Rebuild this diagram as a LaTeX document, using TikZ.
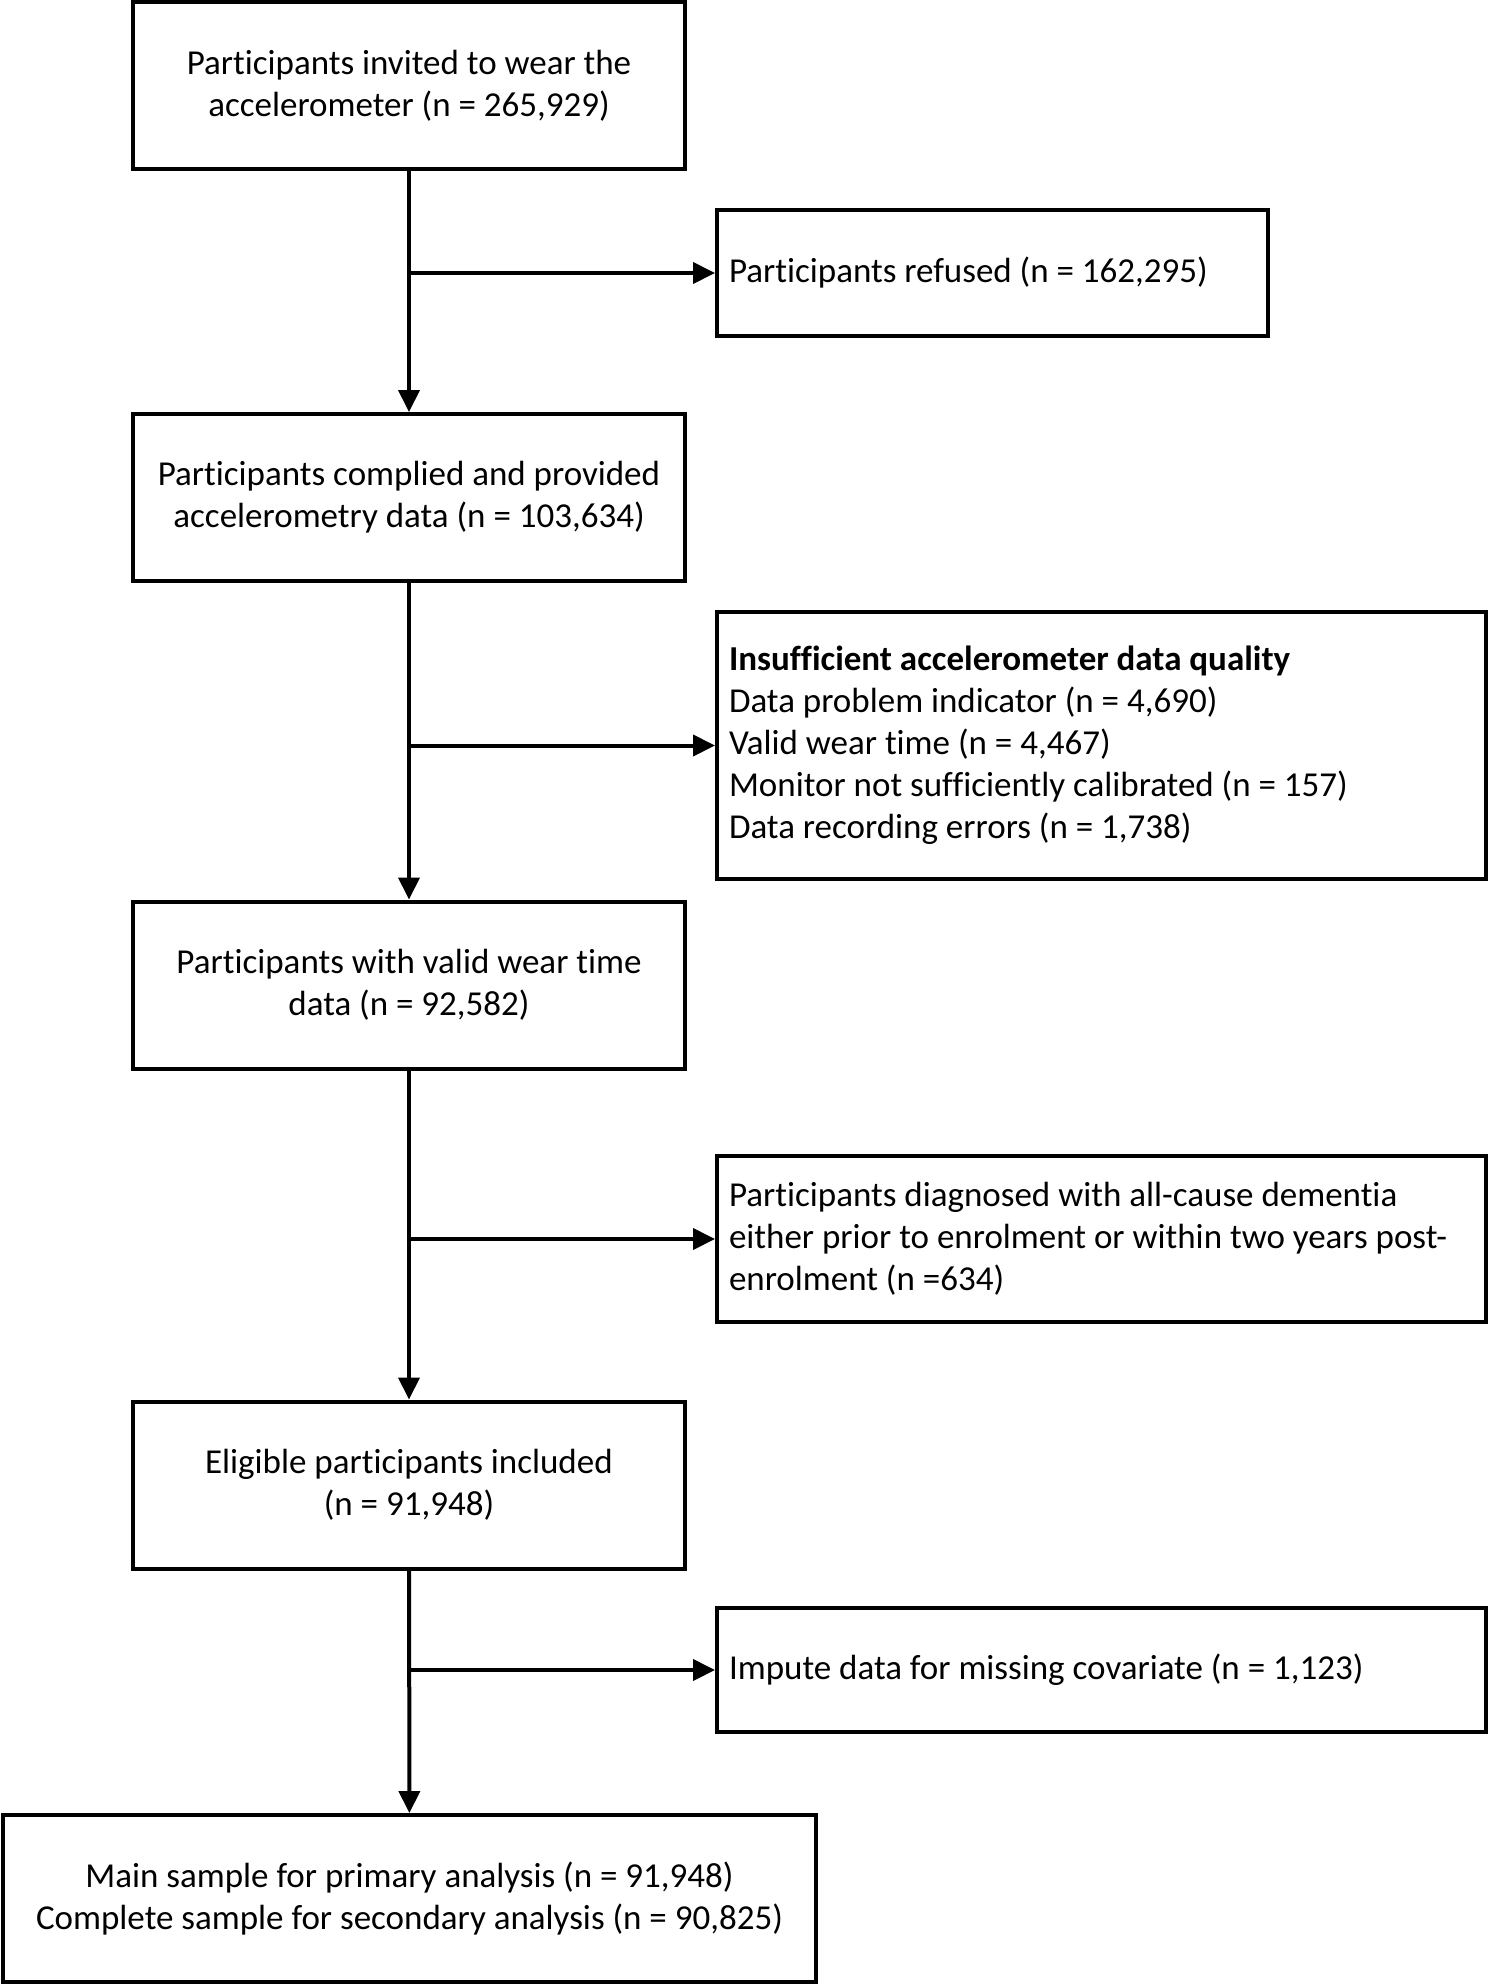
\documentclass[tikz,border=0pt]{standalone}
\usepackage{fontspec}
\setmainfont{Carlito}[RawFeature=-liga]
\usetikzlibrary{arrows.meta}

\tikzset{
  mainbox/.style={draw, line width=4pt, minimum width=552pt, minimum height=167pt,
    align=center, inner sep=0pt, font=\fontsize{35pt}{42pt}\selectfont},
  sidebox/.style={draw, line width=4pt, minimum width=769pt, text width=745pt,
    align=flush left, inner sep=0pt, font=\fontsize{35pt}{42pt}\selectfont},
  flow/.style={line width=4pt, -{Triangle[length=22pt, width=21pt]}},
}

\begin{document}
\begin{tikzpicture}[x=1pt, y=1pt]

    \useasboundingbox (0,0) rectangle (1488,-1985);

    \node [mainbox] (invited) at (409,-86) {Participants invited to wear the\\ accelerometer (n = 265,929)};
    \node [sidebox, minimum width=551pt, text width=527pt, minimum height=126pt] (refused) at (992.5,-273) {Participants refused (n = 162,295)};

    \node [mainbox] (complied) at (409,-497.5) {Participants complied and provided\\ accelerometry data (n = 103,634)};
    \node [sidebox, minimum height=267pt] (quality) at (1101.5,-745.5) {\textbf{Insufficient accelerometer data quality}\\ Data problem indicator (n = 4,690)\\ Valid wear time (n = 4,467)\\ Monitor not sufficiently calibrated (n = 157)\\ Data recording errors (n = 1,738)};

    \node [mainbox] (valid) at (409,-985) {Participants with valid wear time\\ data (n = 92,582)};
    \node [sidebox, minimum height=166pt] (dementia) at (1101.5,-1239) {Participants diagnosed with all-cause dementia\\ either prior to enrolment or within two years post-\\ enrolment (n =634)};

    \node [mainbox] (eligible) at (409,-1485) {Eligible participants included\\ (n = 91,948)};
    \node [sidebox, minimum height=124pt] (impute) at (1101.5,-1670) {Impute data for missing covariate (n = 1,123)};

    \node [mainbox, minimum width=813pt] (sample) at (409.5,-1898.5) {Main sample for primary analysis (n = 91,948)\\ Complete sample for secondary analysis (n = 90,825)};

    \draw [flow] (invited) -- (complied);
    \draw [flow] (complied) -- (valid);
    \draw [flow] (valid) -- (eligible);
    \draw [flow] (eligible) -- (sample);

    \draw [flow] (invited.south |- refused.west) -- (refused.west);
    \draw [flow] (complied.south |- quality.west) -- (quality.west);
    \draw [flow] (valid.south |- dementia.west) -- (dementia.west);
    \draw [flow] (eligible.south |- impute.west) -- (impute.west);

\end{tikzpicture}
\end{document}
